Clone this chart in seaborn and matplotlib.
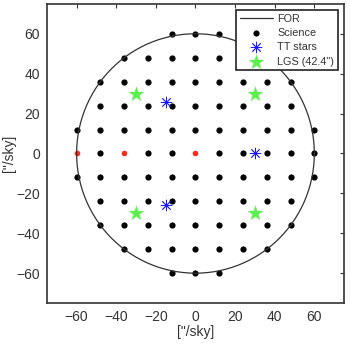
import numpy as np
import pandas as pd
import matplotlib
matplotlib.use("Agg")
import matplotlib.pyplot as plt
import seaborn as sns

# ---- data ----
for_radius = 60.0
# science targets: row y -> x positions (black)
science_rows = {
    60: [-12, 0, 12],
    48: [-36, -24, -12, 0, 12, 24, 36],
    36: [-48, -36, -24, -12, 0, 12, 24, 36, 48],
    24: [-48, -36, -24, -12, 0, 12, 24, 36, 48],
    12: [-60, -48, -36, -24, -12, 0, 12, 24, 36, 48, 60],
    0: [-48, -24, -12, 12, 24, 36, 48, 60],
    -12: [-60, -48, -36, -24, -12, 0, 12, 24, 36, 48, 60],
    -24: [-48, -36, -24, -12, 0, 12, 24, 36, 48],
    -36: [-48, -36, -24, -12, 0, 12, 24, 36, 48],
    -48: [-36, -24, -12, 0, 12, 24, 36],
    -60: [-12, 0, 12],
}
red_x = [-60, -36, 0]
red_y = [0, 0, 0]
tt_x = [-15, 30, -15]
tt_y = [26, 0, -26]
lgs_x = [-30, 30, -30, 30]
lgs_y = [30, 30, -30, -30]
ticks = [-60, -40, -20, 0, 20, 40, 60]

sci_x = [x for y, xs in science_rows.items() for x in xs]
sci_y = [y for y, xs in science_rows.items() for x in xs]

sns.set_style("white")
plt.rcParams['font.family'] = ['Liberation Sans', 'DejaVu Sans']

fig = plt.figure(figsize=(3.5, 3.48), dpi=100)
ax = fig.add_axes([0.134, 0.129, 0.849, 0.860])

theta = np.linspace(0, 2 * np.pi, 361)
circ = pd.DataFrame({"x": for_radius * np.cos(theta), "y": for_radius * np.sin(theta)})
sns.lineplot(data=circ, x="x", y="y", sort=False, estimator=None, color="#333333",
             linewidth=0.9, ax=ax, label="FOR")

sns.scatterplot(x=sci_x, y=sci_y, color="black", s=20, linewidth=0, ax=ax, label="Science")
sns.scatterplot(x=red_x, y=red_y, color="#ff2a1a", s=16, linewidth=0, ax=ax)
sns.scatterplot(x=tt_x, y=tt_y, color="#1a1aff", marker=(8, 2, 0), s=60, linewidth=0.6,
                ax=ax, label="TT stars")
sns.scatterplot(x=lgs_x, y=lgs_y, color="#5af24a", marker="*", s=140, linewidth=0,
                ax=ax, label='LGS (42.4")')

ax.set_xlim(-75, 75)
ax.set_ylim(-75, 75)
ax.set_xticks(ticks)
ax.set_yticks(ticks)
ax.tick_params(direction="in", length=3, width=0.8, top=True, right=True,
               labelsize=10, labelcolor="#333333", color="#333333", pad=5)
for s in ax.spines.values():
    s.set_visible(True)
    s.set_color("#333333")
    s.set_linewidth(1.2)
ax.set_xlabel('["/sky]', fontsize=10, color="#333333", labelpad=1)
ax.set_ylabel('["/sky]', fontsize=10, color="#333333")
ax.yaxis.set_label_coords(-0.103, 0.5)

leg = ax.legend(loc="upper right", fontsize=7.8, frameon=True, fancybox=False,
                edgecolor="#222222", framealpha=1, borderpad=0.35, labelspacing=0.4,
                handlelength=3.0, handletextpad=0.45, borderaxespad=0.55)
leg.get_frame().set_linewidth(1.2)
for t in leg.get_texts():
    t.set_color("#333333")

fig.savefig("out.png", dpi=100)
